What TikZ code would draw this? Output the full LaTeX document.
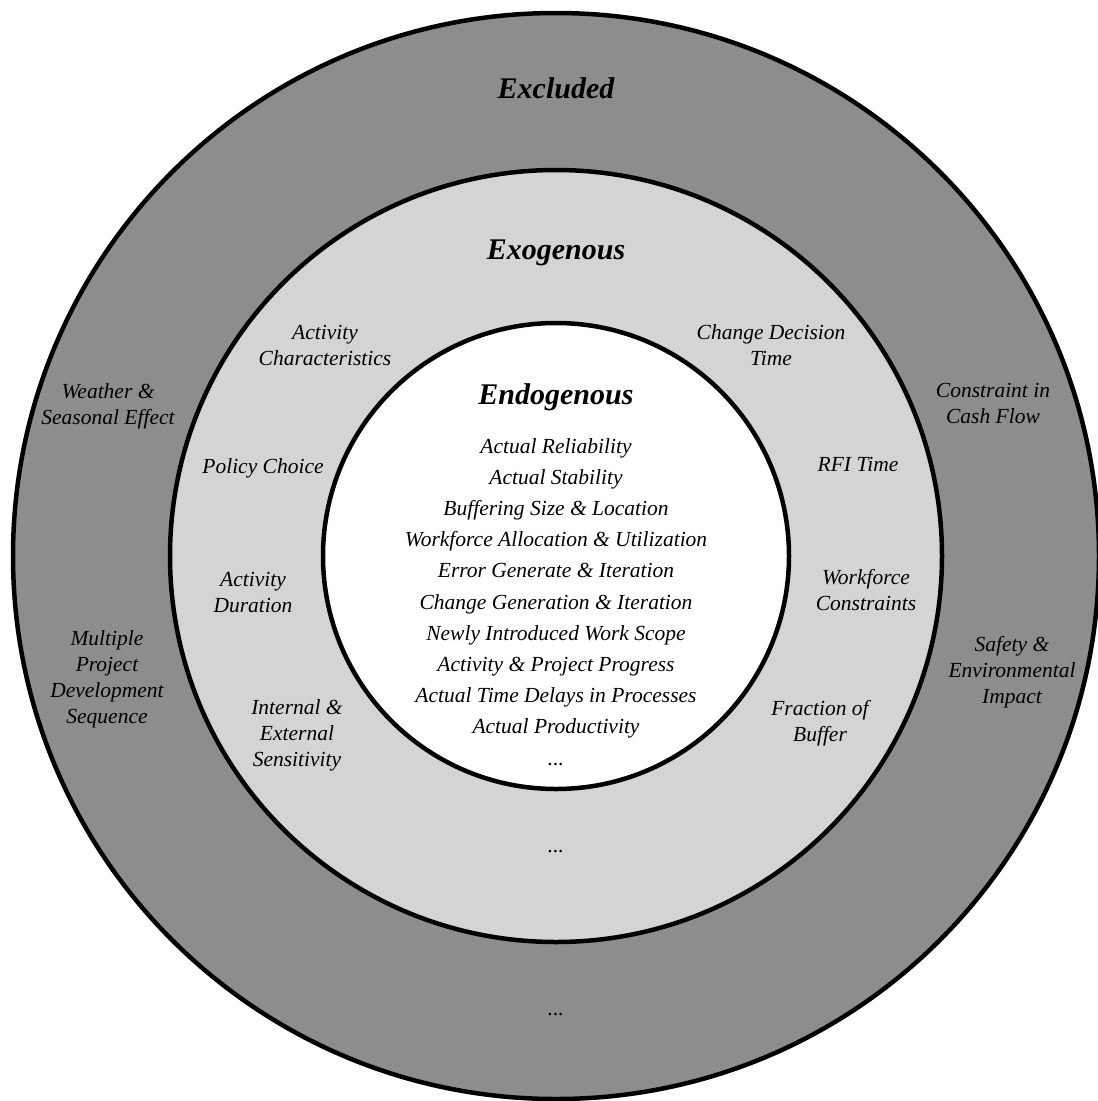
\documentclass[tikz,border=0pt]{standalone}
\usepackage{fontspec}
\setmainfont{Liberation Serif}
\definecolor{outerring}{RGB}{141,141,141}
\definecolor{middlering}{RGB}{212,212,212}
\begin{document}
\begin{tikzpicture}[x=1pt,y=-1pt,
  ring/.style={draw=black,line width=4.5pt},
  lbl/.style={font=\itshape\fontsize{21.5}{26}\selectfont,align=center,inner sep=0pt},
  item/.style={font=\itshape\fontsize{21.5}{26}\selectfont,inner sep=0pt,anchor=base},
  head/.style={font=\bfseries\itshape\fontsize{30}{34}\selectfont,inner sep=0pt}]
\useasboundingbox (0,0) rectangle (1098,1101);
\fill[white] (0,0) rectangle (1098,1101);

% three nested zones
\coordinate (c) at (556,556);
\draw[ring,fill=outerring] (c) circle[radius=543];
\draw[ring,fill=middlering] (c) circle[radius=386];
\draw[ring,fill=white] (c) circle[radius=233];

% zone titles
\node[head] (excl) at (556,88) {Excluded};
\node[head] (exog) at (556,253) {Exogenous};
\node[head] (endo) at (556,397) {Endogenous};

% endogenous variables, one per baseline
\foreach \t [count=\i] in {Actual Reliability,Actual Stability,Buffering Size \& Location,
  Workforce Allocation \& Utilization,Error Generate \& Iteration,
  Change Generation \& Iteration,Newly Introduced Work Scope,
  Activity \& Project Progress,Actual Time Delays in Processes,Actual Productivity}
  \node[item] (en\i) at (556,{453+31.2*(\i-1)}) {\t};
\node[item] (enmore) at (556,765) {...};

% exogenous variables
\node[lbl] (actchar) at (325,345) {Activity\\Characteristics};
\node[lbl] (chdec) at (771,345) {Change Decision\\Time};
\node[lbl] (policy) at (263,468) {Policy Choice};
\node[lbl] (rfi) at (858,464) {RFI Time};
\node[lbl] (actdur) at (253,592) {Activity\\Duration};
\node[lbl] (wfcons) at (866,590) {Workforce\\Constraints};
\node[lbl] (sens) at (297,735) {Internal \&\\External\\Sensitivity};
\node[lbl] (buffer) at (820,723) {Fraction of\\Buffer};
\node[item] (exmore) at (556,852) {...};

% excluded variables
\node[lbl] (weather) at (108,406) {Weather \&\\Seasonal Effect};
\node[lbl] (cash) at (993,403) {Constraint in\\Cash Flow};
\node[lbl] (multi) at (107,679) {Multiple\\Project\\Development\\Sequence};
\node[lbl] (safety) at (1012,672) {Safety \&\\Environmental\\Impact};
\node[item] (xmore) at (556,1015) {...};
\end{tikzpicture}
\end{document}
